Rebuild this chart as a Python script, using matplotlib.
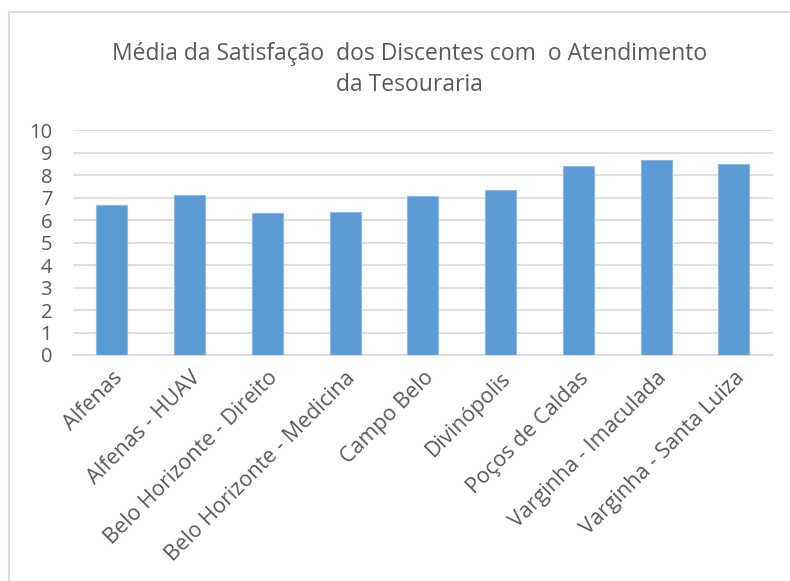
import matplotlib
matplotlib.use('Agg')
import matplotlib.pyplot as plt
from matplotlib.lines import Line2D

# Data
campi = ['Alfenas', 'Alfenas - HUAV', 'Belo Horizonte - Direito', 'Belo Horizonte - Medicina',
         'Campo Belo', 'Divinópolis', 'Poços de Caldas', 'Varginha - Imaculada',
         'Varginha - Santa Luiza']
media = [6.65, 7.12, 6.31, 6.36, 7.08, 7.32, 8.39, 8.65, 8.50]
yticks = list(range(0, 11))

plt.rcParams['font.family'] = ['Open Sans', 'DejaVu Sans']
text_color = '#595959'

fig = plt.figure(figsize=(7.9, 5.81), dpi=100)
ax = fig.add_axes([0.0924, 0.389, 0.8858, 0.387])

x = range(len(campi))
ax.bar(x, media, width=0.4, color='#5B9BD5', edgecolor='#8DB8E2', linewidth=0.8, zorder=3)

ax.set_xlim(-0.5, len(campi) - 0.5)
ax.set_ylim(0, 10)
ax.set_yticks(yticks)
ax.set_yticklabels([str(t) for t in yticks], fontsize=14.5, color=text_color)
ax.set_xticks(list(x))
ax.set_xticklabels(campi, rotation=45, ha='right', rotation_mode='anchor',
                   fontsize=15.5, color=text_color)
ax.tick_params(axis='x', length=0, pad=9)
ax.tick_params(axis='y', length=0, pad=15)
ax.grid(axis='y', color='#D9D9D9', linewidth=1.2, zorder=0)
for s in ['top', 'right', 'left']:
    ax.spines[s].set_visible(False)
ax.spines['bottom'].set_color('#D9D9D9')
ax.spines['bottom'].set_linewidth(1.2)

fig.text(0.518, 0.88, 'Média da Satisfação  dos Discentes com  o Atendimento\nda Tesouraria',
         ha='center', va='center', fontsize=16.5, color=text_color, linespacing=1.4)

# chart border (only top and left edges are visible in the crop)
fig.add_artist(Line2D([9 / 790, 9 / 790], [0, 1 - 12 / 581], transform=fig.transFigure,
                      color='#D9D9D9', linewidth=1.5))
fig.add_artist(Line2D([9 / 790, 1], [1 - 12 / 581, 1 - 12 / 581], transform=fig.transFigure,
                      color='#D9D9D9', linewidth=1.5))

fig.savefig('out.png', dpi=100)
